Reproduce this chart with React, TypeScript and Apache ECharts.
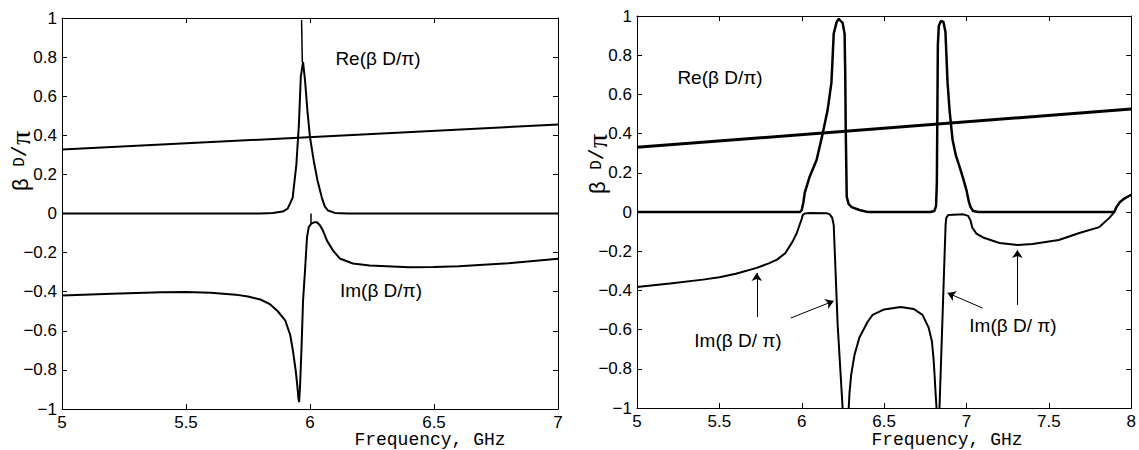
import React, { useEffect, useRef } from "react";
import * as echarts from "echarts";

// ---------- Left panel data ----------
const leftReLine = [[5, 0.327], [7, 0.455]];
const leftRe = [
  [5, 0], [5.8, 0], [5.85, 0.003], [5.89, 0.01], [5.91, 0.025], [5.93, 0.08], [5.945, 0.25],
  [5.955, 0.45], [5.963, 0.7], [5.972, 0.775], [5.98, 0.68], [5.99, 0.52], [6.0, 0.39],
  [6.015, 0.27], [6.03, 0.17], [6.048, 0.08], [6.06, 0.035], [6.073, 0.015], [6.1, 0.003],
  [6.15, 0], [7, 0],
];
const leftReSpike = [[5.966, 0.99], [5.969, 0.775]];
const leftIm = [
  [5, -0.42], [5.2, -0.41], [5.4, -0.403], [5.5, -0.402], [5.6, -0.405], [5.7, -0.415],
  [5.75, -0.425], [5.8, -0.44], [5.84, -0.465], [5.87, -0.5], [5.9, -0.547], [5.92, -0.62],
  [5.931, -0.7], [5.942, -0.8], [5.948, -0.87], [5.953, -0.94], [5.956, -0.965], [5.96, -0.88],
  [5.966, -0.68], [5.972, -0.445], [5.98, -0.29], [5.988, -0.12], [5.995, -0.07],
  [6.005, -0.052], [6.017, -0.045], [6.028, -0.045], [6.04, -0.06], [6.052, -0.087],
  [6.069, -0.14], [6.093, -0.19], [6.12, -0.23], [6.173, -0.256], [6.24, -0.266],
  [6.4, -0.275], [6.5, -0.274], [6.6, -0.27], [6.8, -0.255], [7.0, -0.232],
];
const leftImTick = [[6.004, 0], [6.004, -0.05]];

// ---------- Right panel data ----------
const rightReLine = [[5, 0.33], [8, 0.525]];
const rightRe = [
  [5, 0], [5.99, 0], [6.0, 0.01], [6.01, 0.05], [6.018, 0.097], [6.048, 0.18], [6.09, 0.265],
  [6.127, 0.4], [6.157, 0.52], [6.18, 0.66], [6.188, 0.8], [6.194, 0.91], [6.212, 0.97],
  [6.224, 0.985], [6.248, 0.965], [6.26, 0.91], [6.264, 0.7], [6.267, 0.42], [6.273, 0.077],
  [6.285, 0.04], [6.303, 0.025], [6.35, 0.01], [6.4, 0], [6.78, 0], [6.805, 0.005],
  [6.815, 0.03], [6.82, 0.15], [6.823, 0.5], [6.826, 0.85], [6.832, 0.95], [6.845, 0.975],
  [6.86, 0.97], [6.872, 0.92], [6.878, 0.8], [6.885, 0.66], [6.897, 0.52], [6.915, 0.37],
  [6.935, 0.29], [6.958, 0.23], [6.98, 0.17], [7.0, 0.11], [7.015, 0.05], [7.024, 0.026],
  [7.04, 0.005], [7.07, 0], [7.897, 0], [7.91, 0.025], [7.93, 0.05], [7.96, 0.07], [8, 0.088],
];
const rightImA = [
  [5, -0.383], [5.2, -0.365], [5.4, -0.345], [5.5, -0.333], [5.6, -0.315], [5.727, -0.285],
  [5.8, -0.262], [5.85, -0.243], [5.9, -0.21], [5.945, -0.15], [5.97, -0.107], [5.985, -0.07],
  [6.0, -0.035], [6.006, -0.015], [6.02, -0.007], [6.05, -0.005], [6.15, -0.006],
  [6.17, -0.012], [6.185, -0.03], [6.194, -0.066], [6.218, -0.577], [6.248, -1.0],
];
const rightImB = [
  [6.285, -1], [6.29, -0.92], [6.3, -0.83], [6.32, -0.73], [6.35, -0.64], [6.4, -0.56],
  [6.43, -0.525], [6.5, -0.497], [6.6, -0.485], [6.68, -0.495], [6.733, -0.525],
  [6.77, -0.59], [6.79, -0.66], [6.8, -0.75], [6.806, -0.83], [6.812, -0.92], [6.818, -1],
];
const rightImC = [
  [6.836, -1], [6.873, -0.066], [6.877, -0.03], [6.89, -0.015], [6.98, -0.012],
  [7.01, -0.02], [7.025, -0.045], [7.035, -0.08], [7.06, -0.11], [7.1, -0.13], [7.2, -0.158],
  [7.31, -0.168], [7.4, -0.163], [7.56, -0.143], [7.685, -0.107], [7.806, -0.077],
  [7.867, -0.03], [7.897, 0],
];
// arrows: [tail, tip]
const rightArrows = [
  [[5.727, -0.536], [5.727, -0.311]],
  [[5.933, -0.541], [6.194, -0.454]],
  [[7.097, -0.49], [6.885, -0.413]],
  [[7.309, -0.474], [7.309, -0.194]],
];

const xTicksLeft = { min: 5, max: 7, interval: 0.5 };
const xTicksRight = { min: 5, max: 8, interval: 0.5 };
const yTicks = { min: -1, max: 1, interval: 0.2 };

const SANS = "Liberation Sans, Arial, sans-serif";
const MONO = "Liberation Mono, Courier New, monospace";
const SERIF = "Liberation Serif, Times New Roman, serif";

const fmtY = (v: number) => {
  const r = Math.round(v * 10) / 10;
  if (r === 0) return "0";
  return String(r).replace("-", "\u2212");
};
const fmtX = (v: number) => String(Math.round(v * 10) / 10);

function axisPair(gridIndex: number, range: { min: number; max: number; interval: number }, isX: boolean) {
  const base = {
    type: "value" as const,
    gridIndex,
    min: range.min,
    max: range.max,
    interval: range.interval,
    splitLine: { show: false },
    axisLine: { show: true, onZero: false, lineStyle: { color: "#000", width: 1 } },
    axisTick: { show: true, inside: true, length: 5, lineStyle: { color: "#000", width: 1 } },
  };
  const main = {
    ...base,
    position: isX ? "bottom" : "left",
    axisLabel: {
      show: true,
      color: "#000",
      fontSize: 17,
      lineHeight: 17,
      fontFamily: SANS,
      margin: isX ? 5 : 5,
      formatter: isX ? fmtX : fmtY,
    },
  };
  const opp = { ...base, position: isX ? "top" : "right", axisLabel: { show: false } };
  return [main, opp];
}

const lineSeries = (name: string, data: number[][], idx: number, width: number) => ({
  name,
  type: "line",
  xAxisIndex: idx * 2,
  yAxisIndex: idx * 2,
  data,
  showSymbol: false,
  symbol: "none",
  smooth: false,
  lineStyle: { color: "#000", width },
  emphasis: { disabled: true },
  silent: true,
  z: 3,
});

const yLabel = (x: number, y: number) => ({
  type: "text",
  x,
  y,
  rotation: Math.PI / 2,
  style: {
    text: "{a|\u03b2}{s|   }{b|D}{c|/}{d|\u03c0}",
    align: "center",
    verticalAlign: "middle",
    textAlign: "center",
    textVerticalAlign: "middle",
    rich: {
      a: { fontFamily: SANS, fontSize: 22, fill: "#000" },
      s: { fontFamily: SANS, fontSize: 14, fill: "#000" },
      b: { fontFamily: MONO, fontSize: 16, fill: "#000" },
      c: { fontFamily: MONO, fontSize: 20, fill: "#000" },
      d: { fontFamily: SERIF, fontSize: 28, fill: "#000" },
    },
  },
});

const label = (text: string, x: number, y: number, size = 18, family = SANS) => ({
  type: "text",
  x,
  y,
  style: {
    text,
    font: `${size}px ${family}`,
    lineHeight: size,
    fill: "#000",
    align: "center",
    verticalAlign: "middle",
    textAlign: "center",
    textVerticalAlign: "middle",
  },
});

export default function App() {
  const ref = useRef<HTMLDivElement>(null);
  useEffect(() => {
    if (!ref.current) return;
    const chart = echarts.init(ref.current, undefined, { renderer: "svg" });
    const [lx, lxt] = axisPair(0, xTicksLeft, true);
    const [ly, lyr] = axisPair(0, yTicks, false);
    const [rx, rxt] = axisPair(1, xTicksRight, true);
    const [ry, ryr] = axisPair(1, yTicks, false);
    chart.setOption({
      animation: false,
      backgroundColor: "#fff",
      textStyle: { fontFamily: SANS },
      grid: [
        { left: 62, right: 1139 - 558, top: 18, bottom: 450 - 409, containLabel: false },
        { left: 637, right: 1139 - 1133, top: 16, bottom: 450 - 408, containLabel: false },
      ],
      xAxis: [lx, lxt, rx, rxt],
      yAxis: [ly, lyr, ry, ryr],
      series: [
        lineSeries("leftReLine", leftReLine, 0, 2),
        lineSeries("leftRe", leftRe, 0, 2),
        lineSeries("leftReSpike", leftReSpike, 0, 1.5),
        lineSeries("leftIm", leftIm, 0, 2),
        lineSeries("leftImTick", leftImTick, 0, 1.5),
        lineSeries("rightReLine", rightReLine, 1, 3),
        lineSeries("rightRe", rightRe, 1, 2.5),
        lineSeries("rightImA", rightImA, 1, 2),
        lineSeries("rightImB", rightImB, 1, 2),
        {
          ...lineSeries("rightImC", rightImC, 1, 2),
          markLine: {
            silent: true,
            symbol: ["none", "arrow"],
            symbolSize: 8,
            label: { show: false },
            emphasis: { disabled: true },
            lineStyle: { color: "#000", width: 1, type: "solid" },
            data: rightArrows.map(([a, b]) => [{ coord: a }, { coord: b }]),
          },
        },
      ],
      graphic: [
        yLabel(20, 161),
        yLabel(597, 164),
        label("Frequency, GHz", 430, 440, 18, MONO),
        label("Frequency, GHz", 947, 440, 18, MONO),
        label("Re(\u03b2 D/\u03c0)", 378, 58, 19),
        label("Im(\u03b2 D/\u03c0)", 381, 290, 19),
        label("Re(\u03b2 D/\u03c0)", 720, 77, 19),
        label("Im(\u03b2 D/ \u03c0)", 738, 340, 19),
        label("Im(\u03b2 D/ \u03c0)", 1013, 325, 19),
      ],
    });
    return () => chart.dispose();
  }, []);
  return (
    <div
      ref={ref}
      style={{ position: "fixed", left: 0, top: 0, width: 1139, height: 450, background: "#fff" }}
    />
  );
}
